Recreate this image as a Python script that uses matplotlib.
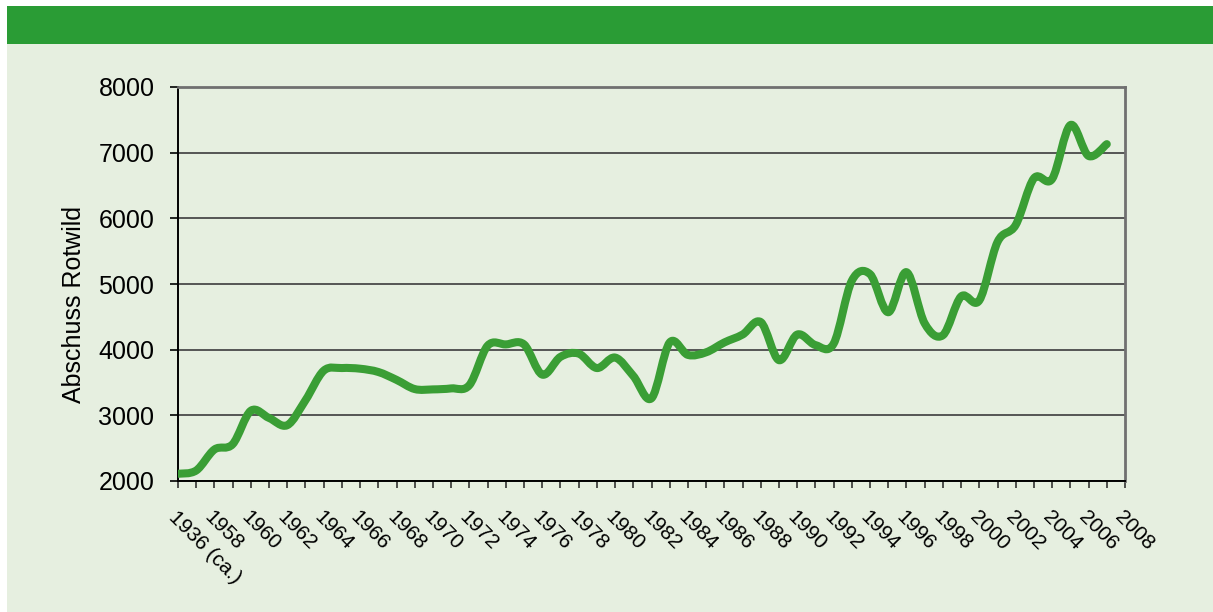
import matplotlib
matplotlib.use('Agg')
import matplotlib.pyplot as plt
from matplotlib.path import Path
from matplotlib.patches import PathPatch, Rectangle

plt.rcParams['font.family'] = ['Liberation Sans', 'DejaVu Sans']

# Kategorien (jede zweite wird beschriftet)
categories = ['1936 (ca.)'] + [str(y) for y in range(1957, 2009)]

# Abschuss Rotwild je Jahr (1936 ca., 1957 ... 2007)
abschuss = [2110, 2160, 2480, 2560, 3070, 2960, 2850, 3230, 3680, 3720,
            3710, 3660, 3540, 3400, 3395, 3410, 3460, 4060, 4080, 4080,
            3620, 3890, 3940, 3720, 3880, 3600, 3260, 4110, 3920, 3960,
            4110, 4230, 4420, 3840, 4230, 4070, 4090, 5050, 5150, 4570,
            5180, 4400, 4220, 4810, 4750, 5640, 5900, 6610, 6600, 7420,
            6950, 7130]

yticks = [2000, 3000, 4000, 5000, 6000, 7000, 8000]

bg = '#e6efe0'
header = '#2a9c35'
line_col = '#3a9e35'

fig = plt.figure(figsize=(12.13, 6.12), dpi=100)
fig.patch.set_facecolor('white')
# hellgruener Hintergrund und gruener Balken oben
fig.patches.append(Rectangle((7/1213, 0), 1, 1 - 44/612, transform=fig.transFigure,
                             facecolor=bg, edgecolor='none', zorder=-10))
fig.patches.append(Rectangle((7/1213, 1 - 44/612), 1, 38/612, transform=fig.transFigure,
                             facecolor=header, edgecolor='none', zorder=-10))

ax = fig.add_axes([178/1213, 1 - 481/612, (1125 - 178)/1213, (481 - 87)/612])
ax.set_facecolor(bg)

# geglaettete Linie wie in Excel (Bezier durch die Datenpunkte)
xs = list(range(len(abschuss)))
verts = [(xs[0], abschuss[0])]
codes = [Path.MOVETO]
n = len(abschuss)
for i in range(n - 1):
    p0 = (xs[max(i - 1, 0)], abschuss[max(i - 1, 0)])
    p1 = (xs[i], abschuss[i])
    p2 = (xs[i + 1], abschuss[i + 1])
    p3 = (xs[min(i + 2, n - 1)], abschuss[min(i + 2, n - 1)])
    c1 = (p1[0] + (p2[0] - p0[0]) / 6, p1[1] + (p2[1] - p0[1]) / 6)
    c2 = (p2[0] - (p3[0] - p1[0]) / 6, p2[1] - (p3[1] - p1[1]) / 6)
    verts += [c1, c2, p2]
    codes += [Path.CURVE4] * 3
ax.add_patch(PathPatch(Path(verts, codes), facecolor='none', edgecolor=line_col,
                       lw=5.8, capstyle='round', joinstyle='round', zorder=3))

ax.set_xlim(0, len(categories) - 1)
ax.set_ylim(2000, 8000)
ax.set_yticks(yticks)
ax.set_yticklabels([str(v) for v in yticks], fontsize=18)
ax.set_xticks(range(len(categories)))
ax.set_xticklabels([c if i % 2 == 0 else '' for i, c in enumerate(categories)],
                   fontsize=15, rotation=-45, ha='left', va='top',
                   rotation_mode='anchor')
ax.tick_params(axis='y', length=6, width=1.2, pad=11, direction='out')
ax.tick_params(axis='x', length=5, width=1.2, pad=14, direction='out', color='#333333')
ax.grid(axis='y', color='#555555', lw=1.4)
ax.set_axisbelow(True)

for s in ['left', 'bottom']:
    ax.spines[s].set_color('black')
    ax.spines[s].set_linewidth(1.4)
for s in ['top', 'right']:
    ax.spines[s].set_color('#707070')
    ax.spines[s].set_linewidth(2)

ax.set_ylabel('Abschuss Rotwild', fontsize=18)
ax.yaxis.set_label_coords(-0.097, 0.449)

fig.savefig('out.png', dpi=100, facecolor=fig.get_facecolor())
